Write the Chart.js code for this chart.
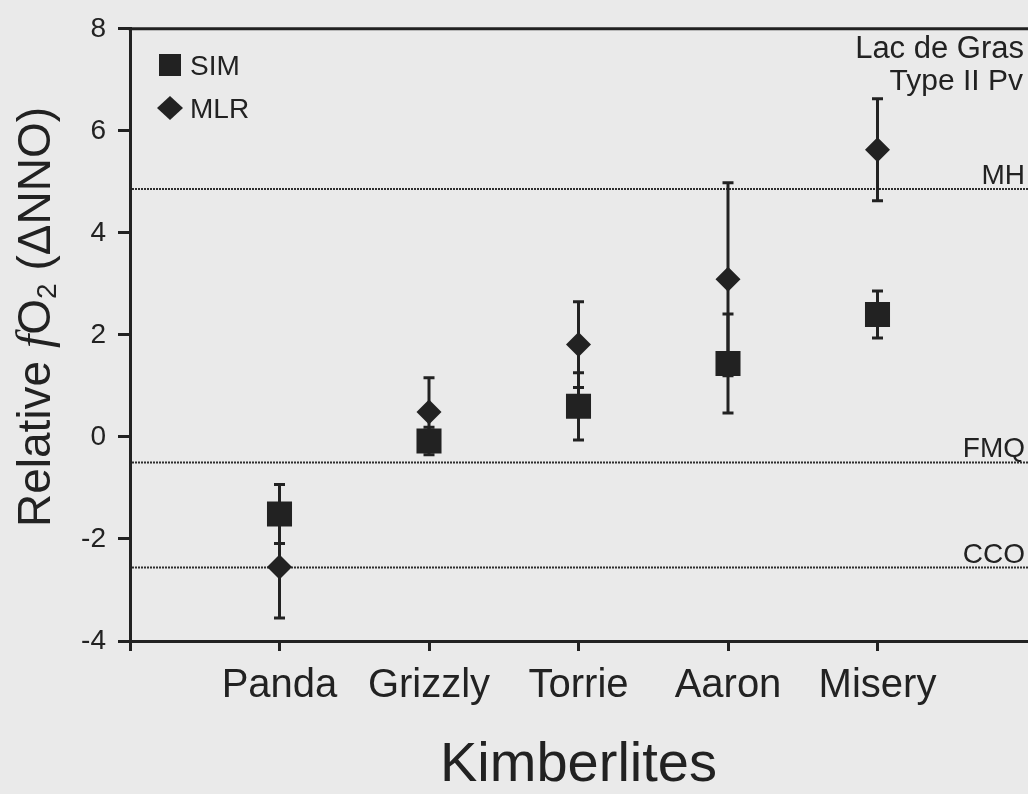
<!DOCTYPE html>
<html>
<head>
<meta charset="utf-8">
<script src="https://cdn.jsdelivr.net/npm/chart.js@4/dist/chart.umd.min.js"></script>
<style>
  html, body { margin: 0; padding: 0; background: #eaeaea; }
  #wrap { width: 1028px; height: 794px; position: relative; }
  canvas { display: block; }
</style>
</head>
<body>
<div id="wrap"><canvas id="c" width="1028" height="794"></canvas></div>
<script>
// ---- data ----
const categories = ['Panda', 'Grizzly', 'Torrie', 'Aaron', 'Misery'];
const seriesNames = ['SIM', 'MLR'];
const simValues = [-1.51, -0.08, 0.60, 1.44, 2.40];
const simErrors = [0.58, 0.27, 0.66, 0.97, 0.46];
const mlrValues = [-2.55, 0.49, 1.81, 3.09, 5.63];
const mlrErrors = [1.00, 0.67, 0.84, 1.89, 1.00];
const refNames = ['MH', 'FMQ', 'CCO'];
const refValues = [4.86, -0.50, -2.56];
const yTicks = [-4, -2, 0, 2, 4, 6, 8];
const cornerLabels = ['Lac de Gras', 'Type II Pv'];
const xTitle = 'Kimberlites';

// ---- styling ----
const FONT = "'Liberation Sans', Arial, Helvetica, sans-serif";
const SERIF = "'Liberation Serif', 'Times New Roman', serif";
const INK = '#222222';
const BG = '#eaeaea';

const toPoints = vals => vals.map((v, i) => ({ x: i + 1, y: v }));

const bgPlugin = {
  id: 'bg',
  beforeDraw(chart) {
    const c = chart.ctx;
    c.save();
    c.fillStyle = BG;
    c.fillRect(0, 0, chart.width, chart.height);
    c.restore();
  }
};

const refLinePlugin = {
  id: 'refLines',
  beforeDatasetsDraw(chart) {
    const c = chart.ctx, a = chart.chartArea, y = chart.scales.y;
    c.save();
    refValues.forEach((v, i) => {
      const py = y.getPixelForValue(v);
      c.strokeStyle = '#2e2e2e';
      c.lineWidth = 2;
      c.setLineDash([2, 1]);
      c.beginPath();
      c.moveTo(a.left + 2, py);
      c.lineTo(chart.width, py);
      c.stroke();
      c.setLineDash([]);
      c.fillStyle = INK;
      c.font = '28px ' + FONT;
      c.textAlign = 'right';
      c.textBaseline = 'alphabetic';
      c.fillText(refNames[i], 1025, py - 5);
    });
    c.restore();
  }
};

const errorBarPlugin = {
  id: 'errorBars',
  beforeDatasetsDraw(chart) {
    const c = chart.ctx, xs = chart.scales.x, ys = chart.scales.y;
    c.save();
    c.strokeStyle = INK;
    c.lineWidth = 3;
    c.lineCap = 'butt';
    chart.data.datasets.forEach(ds => {
      ds.data.forEach((p, i) => {
        const e = ds.errors[i];
        const px = xs.getPixelForValue(p.x);
        const yTop = ys.getPixelForValue(p.y + e);
        const yBot = ys.getPixelForValue(p.y - e);
        c.beginPath();
        c.moveTo(px, yTop); c.lineTo(px, yBot);
        c.moveTo(px - 5.5, yTop); c.lineTo(px + 5.5, yTop);
        c.moveTo(px - 5.5, yBot); c.lineTo(px + 5.5, yBot);
        c.stroke();
      });
    });
    c.restore();
  }
};

const annotPlugin = {
  id: 'annot',
  afterDraw(chart) {
    const c = chart.ctx, a = chart.chartArea;
    c.save();
    // top frame line
    c.strokeStyle = INK;
    c.lineWidth = 3;
    c.beginPath();
    c.moveTo(a.left - 1.5, a.top);
    c.lineTo(chart.width, a.top);
    c.stroke();

    // corner labels
    c.fillStyle = INK;
    c.textAlign = 'right';
    c.textBaseline = 'alphabetic';
    c.font = '31px ' + FONT;
    c.fillText(cornerLabels[0], 1024, 58);
    c.font = '30px ' + FONT;
    c.fillText(cornerLabels[1], 1023, 90);

    // legend
    chart.data.datasets.forEach((ds, i) => {
      const cy = 65 + i * 43;
      c.fillStyle = INK;
      c.beginPath();
      if (ds.pointStyle === 'rect') {
        c.rect(159, cy - 11, 22, 22);
      } else {
        c.moveTo(157, cy); c.lineTo(170, cy - 12); c.lineTo(183, cy); c.lineTo(170, cy + 12); c.closePath();
      }
      c.fill();
      c.font = '28px ' + FONT;
      c.textAlign = 'left';
      c.fillText(ds.label, 190, cy + 10);
    });

    // y-axis title with italic f and subscript 2
    c.translate(50, 527);
    c.rotate(-Math.PI / 2);
    c.textAlign = 'left';
    c.textBaseline = 'alphabetic';
    let x = 0;
    const piece = (txt, font, dy) => {
      c.font = font;
      c.fillText(txt, x, dy || 0);
      x += c.measureText(txt).width;
    };
    piece('Relative ', '46px ' + FONT);
    piece('f', 'italic 48px ' + SERIF);
    piece('O', '46px ' + FONT);
    piece('2', '28px ' + FONT, 6);
    piece(' (\u0394NNO)', '46px ' + FONT);
    c.restore();
  }
};

const ctx = document.getElementById('c').getContext('2d');
new Chart(ctx, {
  type: 'scatter',
  data: {
    datasets: [
      {
        label: seriesNames[0],
        data: toPoints(simValues),
        errors: simErrors,
        pointStyle: 'rect',
        pointRadius: 17.7,
        pointHoverRadius: 17.7,
        backgroundColor: INK,
        borderColor: INK,
        borderWidth: 0
      },
      {
        label: seriesNames[1],
        data: toPoints(mlrValues),
        errors: mlrErrors,
        pointStyle: 'rectRot',
        pointRadius: 12.5,
        pointHoverRadius: 12.5,
        backgroundColor: INK,
        borderColor: INK,
        borderWidth: 0
      }
    ]
  },
  options: {
    responsive: false,
    animation: false,
    devicePixelRatio: 1,
    layout: { autoPadding: false, padding: { top: 23, right: 1, left: 0, bottom: 0 } },
    plugins: { legend: { display: false }, tooltip: { enabled: false } },
    scales: {
      x: {
        type: 'linear',
        min: 0,
        max: categories.length + 1,
        afterBuildTicks: s => { s.ticks = [0].concat(categories.map((_, i) => i + 1)).map(v => ({ value: v })); },
        afterFit: s => { s.height = 153; s.paddingLeft = 0; s.paddingRight = 0; },
        grid: { drawOnChartArea: false, tickLength: 10, tickWidth: 3, tickColor: INK },
        border: { display: true, color: INK, width: 3 },
        ticks: {
          autoSkip: false, maxRotation: 0, minRotation: 0,
          color: INK, padding: 11,
          font: { family: FONT, size: 40 },
          callback: v => categories[v - 1] || ''
        },
        title: {
          display: true, text: xTitle, color: INK,
          font: { family: FONT, size: 56, lineHeight: 1 },
          padding: { top: 0, bottom: 0 }
        }
      },
      y: {
        type: 'linear',
        min: yTicks[0],
        max: yTicks[yTicks.length - 1],
        afterBuildTicks: s => { s.ticks = yTicks.map(v => ({ value: v })); },
        afterFit: s => { s.width = 130; },
        grid: { drawOnChartArea: false, tickLength: 12, tickWidth: 3, tickColor: INK },
        border: { display: true, color: INK, width: 3 },
        ticks: {
          color: INK, padding: 12,
          font: { family: FONT, size: 28 },
          callback: v => String(v)
        }
      }
    }
  },
  plugins: [bgPlugin, refLinePlugin, errorBarPlugin, annotPlugin]
});
</script>
</body>
</html>
